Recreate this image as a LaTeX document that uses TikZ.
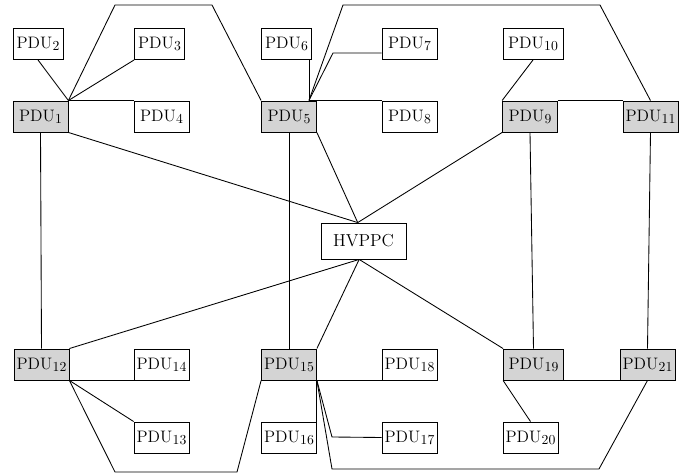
\documentclass[tikz,border=0pt]{standalone}
\newcommand{\pdu}[1]{PDU\kern0.3pt\raisebox{-1.4pt}{\fontsize{9.5}{10}\selectfont #1}}
\begin{document}
\begin{tikzpicture}[x=0.692pt,y=-0.692pt,
  box/.style={draw, line width=0.6pt, minimum height=21.5pt, inner sep=0.5pt,
    fill=white, minimum width=38pt, font=\fontsize{11.5}{13}\selectfont},
  narrow/.style={minimum width=34.6pt},
  wide/.style={minimum width=41.5pt},
  hub/.style={fill=black!17},
  link/.style={line width=0.6pt, line join=miter}]
\useasboundingbox (0,0) rectangle (691,476);

% first row of outlets
\node[box,narrow] (p2)  at (38,44)    {\pdu{2}};
\node[box,narrow] (p3)  at (159.5,44) {\pdu{3}};
\node[box,narrow] (p6)  at (286.5,44) {\pdu{6}};
\node[box]        (p7)  at (409.5,44) {\pdu{7}};
\node[box,wide]   (p10) at (533,44)   {\pdu{10}};

% upper hubs
\node[box,hub] (p1)  at (40.5,116.5)  {\pdu{1}};
\node[box]     (p4)  at (161.5,116.5) {\pdu{4}};
\node[box,hub] (p5)  at (289,116.5)   {\pdu{5}};
\node[box]     (p8)  at (409.5,116.5) {\pdu{8}};
\node[box,hub] (p9)  at (530,116.5)   {\pdu{9}};
\node[box,hub] (p11) at (650.5,116.5) {\pdu{11}};

% central controller
\node[box,minimum width=58.8pt,minimum height=24.9pt,font=\large] (hv) at (363.5,241) {HVPPC};

% lower hubs
\node[box,hub]      (p12) at (41.5,364.5)  {\pdu{12}};
\node[box]          (p14) at (161.5,364.5) {\pdu{14}};
\node[box,hub]      (p15) at (289,364.5)   {\pdu{15}};
\node[box]          (p18) at (409.5,364.5) {\pdu{18}};
\node[box,hub,wide] (p19) at (533.5,364.5) {\pdu{19}};
\node[box,hub]      (p21) at (647.5,364.5) {\pdu{21}};

% bottom row of outlets
\node[box] (p13) at (161.5,437.5) {\pdu{13}};
\node[box] (p16) at (289,437.5)   {\pdu{16}};
\node[box] (p17) at (409.5,437.5) {\pdu{17}};
\node[box] (p20) at (530.5,437.5) {\pdu{20}};

% junction points and route corners
\coordinate (hub5) at ([xshift=-5.5pt]p5.north east);
\coordinate (hvtop) at ([xshift=-4pt]hv.north);
\coordinate (hvbot) at ([xshift=-3pt]hv.south);
\coordinate (ltA) at (115,5);
\coordinate (ltB) at (212,5);
\coordinate (rtA) at (343,5);
\coordinate (rtB) at (600,5);
\coordinate (k7)  at (333,53);
\coordinate (lbA) at (115,472);
\coordinate (lbB) at (237,472);
\coordinate (k17) at (332,437);
\coordinate (rbA) at (332,469);
\coordinate (rbB) at (599,469);

% upper-left group
\draw[link] (p2.south) -- (p1.north east);
\draw[link] (p3.south west) -- (p1.north east);
\draw[link] (p1.north east) -- (p4.north west);
\draw[link] (p1.north east) -- (ltA) -- (ltB) -- (p5.north west);
\draw[link] (p1.south east) -- (hvtop);
\draw[link] (p1.south) -- (p12.north);

% upper-middle group
\draw[link] (hub5) -- (hub5 |- p6.south);
\draw[link] (hub5) -- (k7) -- (k7 -| p7.west);
\draw[link] (hub5) -- (p8.north west);
\draw[link] (hub5) -- (rtA) -- (rtB) -- (p11.north);
\draw[link] (p5.south east) -- (hvtop);
\draw[link] (p5.south) -- (p15.north);

% upper-right group
\draw[link] (p10.south) -- (p9.north west);
\draw[link] (p9.north east) -- (p11.north west);
\draw[link] (p9.south west) -- (hvtop);
\draw[link] (p9.south) -- (p19.north);
\draw[link] (p11.south) -- (p21.north);

% lower-left group
\draw[link] (p12.north east) -- (hvbot);
\draw[link] (p12.south east) -- (p14.south west);
\draw[link] (p12.south east) -- (p13.north west);
\draw[link] (p12.south east) -- (lbA) -- (lbB) -- (p15.south west);

% lower-middle group
\draw[link] (p15.north east) -- (hvbot);
\draw[link] (p15.south east) -- (p18.south west);
\draw[link] (p15.south east) -- (p16.north east);
\draw[link] (p15.south east) -- (k17) -- (p17.west);
\draw[link] (p15.south east) -- (rbA) -- (rbB) -- (p21.south);

% lower-right group
\draw[link] (p19.north west) -- (hvbot);
\draw[link] (p19.south east) -- (p21.south west);
\draw[link] (p19.south west) -- (p20.north);
\end{tikzpicture}
\end{document}
